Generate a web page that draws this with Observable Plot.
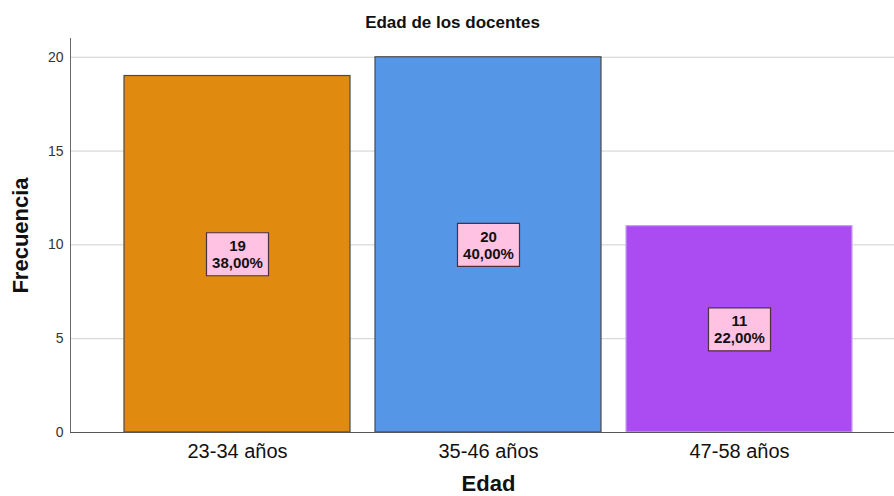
<!DOCTYPE html>
<html><head><meta charset="utf-8">
<script src="https://cdn.jsdelivr.net/npm/d3@7"></script>
<script src="https://cdn.jsdelivr.net/npm/@observablehq/plot@0.6"></script>
<style>body{margin:0;background:#fff} svg{display:block}</style>
</head><body><div id="chart"></div>
<script>
const categories = ["23-34 años", "35-46 años", "47-58 años"];
const counts = [19, 20, 11];
const percents = ["38,00%", "40,00%", "22,00%"];
const colors = ["#E08A10", "#5596E6", "#AB4BF2"];
const strokes = ["#4a4a4a", "#4a4a4a", "#C9A0F5"];
const yTicks = [0, 5, 10, 15, 20];
const title = "Edad de los docentes";
const yLabel = "Frecuencia";
const xLabel = "Edad";

const data = categories.map((c, i) => ({
  cat: c, count: counts[i], label: counts[i] + "\n" + percents[i],
  color: colors[i], stroke: strokes[i]
}));

const boxSymbol = {
  draw(ctx) {
    ctx.moveTo(-31, -21.5); ctx.lineTo(31, -21.5);
    ctx.lineTo(31, 21.5); ctx.lineTo(-31, 21.5); ctx.closePath();
  }
};

const chart = Plot.plot({
  width: 894, height: 496,
  marginTop: 38, marginBottom: 64, marginLeft: 70, marginRight: 0,
  style: {fontFamily: "Arial, 'Liberation Sans', sans-serif", background: "#fff"},
  x: {domain: categories, range: [124, 852], paddingInner: 0.1, paddingOuter: 0, label: null},
  y: {domain: [0, 21], label: null},
  color: {type: "identity"},
  marks: [
    Plot.gridY(yTicks, {stroke: "#cfcfcf", strokeOpacity: 1}),
    Plot.barY(data, {x: "cat", y: "count", fill: "color", stroke: "stroke", strokeWidth: 1.2}),
    Plot.frame({anchor: "left", stroke: "#6b6b6b"}),
    Plot.ruleY([0], {stroke: "#555"}),
    Plot.axisY(yTicks, {tickSize: 0, tickPadding: 7, fontSize: 14, fill: "#333", label: null}),
    Plot.axisX({tickSize: 0, tickPadding: 11, fontSize: 20, fill: "#111", label: null}),
    Plot.dot(data, {x: "cat", y: d => d.count / 2, symbol: boxSymbol, r: 10, fill: "#FFC2E2", stroke: "#4a3040", strokeWidth: 1.2}),
    Plot.text(data, {x: "cat", y: d => d.count / 2, text: "label", fontSize: 15, fontWeight: "bold", fill: "#111", lineHeight: 1.15}),
    Plot.text([title], {frameAnchor: "top", dx: -30, dy: -15.5, lineAnchor: "middle", fontSize: 17, fontWeight: "bold", fill: "#111"}),
    Plot.text([yLabel], {frameAnchor: "left", textAnchor: "middle", dx: -50, rotate: -90, fontSize: 22, fontWeight: "bold", fill: "#111"}),
    Plot.text([xLabel], {frameAnchor: "bottom", dx: 6, dy: 51, lineAnchor: "middle", fontSize: 22, fontWeight: "bold", fill: "#111"})
  ]
});
document.getElementById("chart").appendChild(chart);
</script>
</body></html>
